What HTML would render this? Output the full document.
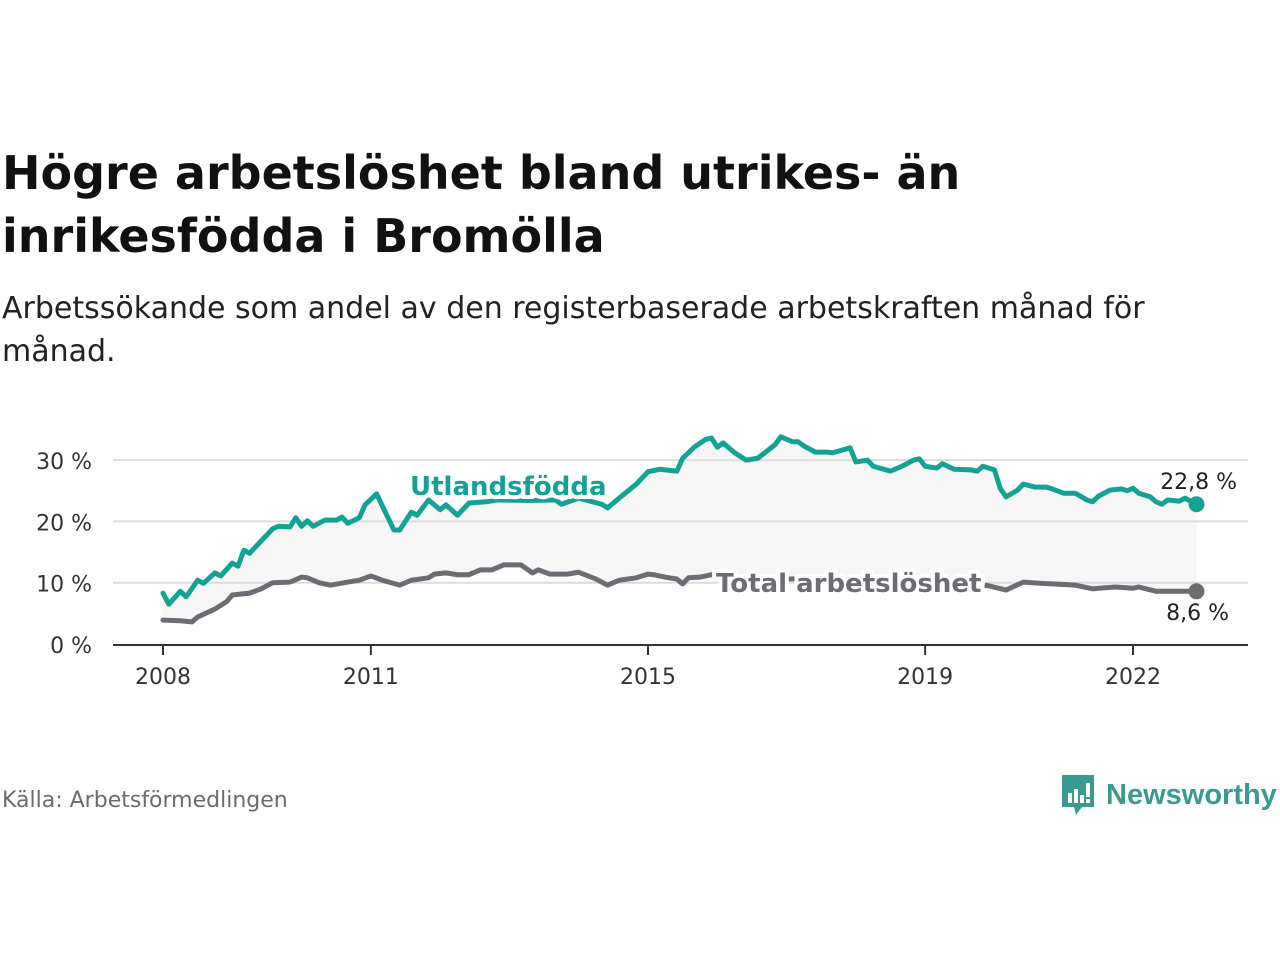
<!DOCTYPE html>
<html><head><meta charset="utf-8">
<style>
body{margin:0;background:#fff;width:1280px;height:960px;overflow:hidden;font-family:"DejaVu Sans","Liberation Sans",sans-serif;}
#title{position:absolute;left:2px;top:142px;font-size:46px;font-weight:bold;line-height:63px;color:#111;margin:0;}
#sub{position:absolute;left:2px;top:287px;font-size:30px;line-height:43px;color:#222;margin:0}
#src{position:absolute;left:2px;top:788px;font-size:22px;color:#6b6b70}
#logo{position:absolute;left:1060px;top:773px;display:flex;align-items:center}
</style></head><body>
<h1 id="title">Högre arbetslöshet bland utrikes- än<br>inrikesfödda i Bromölla</h1>
<p id="sub">Arbetssökande som andel av den registerbaserade arbetskraften månad för<br>månad.</p>
<svg id="chart" width="1280" height="960" style="position:absolute;left:0;top:0"></svg>
<div id="src">Källa: Arbetsförmedlingen</div>
<div id="logo">
<svg width="36" height="44" viewBox="0 0 36 44"><path d="M2 2h32v32H22l-6 8-2-8H2z" fill="#3a9a92"/><rect x="8" y="20" width="4" height="10" fill="#fff"/><rect x="14" y="16" width="4" height="14" fill="#fff"/><rect x="20" y="22" width="4" height="8" fill="#fff"/><rect x="26" y="10" width="4" height="14" fill="#fff"/><rect x="26" y="26" width="4" height="4" fill="#fff"/></svg>
<span style="font-size:29px;color:#3a9a92;margin-left:10px;font-family:'Liberation Sans',sans-serif;font-weight:bold">Newsworthy</span></div>
<script>
const fMonths=[0,1,3,4,6,7,9,10,12,13,14,15,17,19,20,22,23,24,25,26,28,30,31,32,34,35,37,38,40,41,43,44,46,48,49,51,53,56,58,63,68,69,72,76,77,79,82,84,86,89,90,92,94,95,96,97,99,101,103,106,107,109,110,111,113,115,116,119,120,122,123,126,128,130,131,132,134,135,137,140,141,142,144,145,146,148,149,151,153,154,156,158,160,161,162,164,166,167,168,169,171,172,173,174,176,177,179];
const fValues=[8.3,6.5,8.6,7.7,10.4,9.9,11.6,11.1,13.2,12.7,15.3,14.8,16.8,18.8,19.2,19.1,20.6,19.2,20.1,19.2,20.2,20.2,20.7,19.7,20.6,22.7,24.5,22.5,18.6,18.6,21.5,21.0,23.5,21.9,22.7,21.0,23.0,23.2,23.5,23.4,23.5,22.8,23.8,22.8,22.2,23.8,26.1,28.1,28.5,28.2,30.3,32.1,33.4,33.6,32.1,32.8,31.2,30.0,30.3,32.5,33.8,33.0,33.0,32.3,31.3,31.3,31.2,32.0,29.7,30.0,29.0,28.2,29.0,30.0,30.2,29.0,28.7,29.4,28.5,28.4,28.2,29.0,28.4,25.4,24.0,25.1,26.1,25.6,25.6,25.3,24.6,24.6,23.5,23.2,24.1,25.1,25.3,25.0,25.4,24.6,24.0,23.2,22.8,23.5,23.3,23.8,22.8];
const tMonths=[0,3,5,6,9,11,12,15,17,19,22,24,25,27,29,32,34,36,38,41,43,46,47,49,51,53,55,57,59,62,64,65,67,70,72,75,77,79,82,84,85,87,89,90,91,93,95,103,114,124,135,143,146,149,152,154,158,161,162,165,168,169,172,176,179];
const tValues=[3.9,3.8,3.6,4.4,5.7,6.9,8.0,8.3,9.0,10.0,10.1,10.9,10.8,10.0,9.6,10.1,10.4,11.1,10.4,9.6,10.4,10.8,11.4,11.6,11.3,11.3,12.1,12.1,12.9,12.9,11.6,12.1,11.4,11.4,11.7,10.6,9.6,10.4,10.8,11.4,11.3,10.9,10.6,9.8,10.8,10.9,11.3,10.4,10.8,10.1,10.4,9.5,8.8,10.1,9.9,9.8,9.6,9.0,9.1,9.3,9.1,9.3,8.6,8.6,8.6];
const yTicks=[0,10,20,30];
const xTickYears=[2008,2011,2015,2019,2022];
const NS="http://www.w3.org/2000/svg";
const svg=document.getElementById('chart');
const xs=m=>163+m*(1133-163)/168;
const ys=v=>644-v*6.13;
function mk(t,a,p){const e=document.createElementNS(NS,t);for(const k in a)e.setAttribute(k,a[k]);(p||svg).appendChild(e);return e;}
function interp(ms,vs,m){for(let i=1;i<ms.length;i++)if(m<=ms[i]){const f=(m-ms[i-1])/(ms[i]-ms[i-1]);return vs[i-1]+f*(vs[i]-vs[i-1]);}return vs[vs.length-1];}
const upperPts=[],lowerPts=[];
for(let m=0;m<=179;m++){upperPts.push(xs(m)+','+ys(interp(fMonths,fValues,m)));lowerPts.unshift(xs(m)+','+ys(interp(tMonths,tValues,m)));}
const area=mk('polygon',{points:upperPts.concat(lowerPts).join(' '),fill:'#f6f6f6'});


yTicks.forEach(t=>{
 if(t>0){const g=mk('line',{x1:113,x2:1248,y1:ys(t),y2:ys(t),stroke:'#dcdcdc','stroke-width':2});
 
 }
 const l=mk('text',{x:92,y:ys(t)+9,'text-anchor':'end','font-size':22,fill:'#333'});l.textContent=t+' %';
 
 
});
const axis=mk('line',{x1:113,x2:1248,y1:645,y2:645,stroke:'#333','stroke-width':2});


xTickYears.forEach(yr=>{const m=(yr-2008)*12;
 const tk=mk('line',{x1:xs(m),x2:xs(m),y1:645,y2:655,stroke:'#333','stroke-width':2});
 
 
 const l=mk('text',{x:xs(m),y:684,'text-anchor':'middle','font-size':22,fill:'#333'});l.textContent=yr;
 
 });
function line(ms,vs,c,name){
 const p=mk('polyline',{points:ms.map((m,i)=>xs(m)+','+ys(vs[i])).join(' '),fill:'none',stroke:c,'stroke-width':5,'stroke-linejoin':'round','stroke-linecap':'round'});
 
 
 const d=mk('circle',{cx:xs(ms[ms.length-1]),cy:ys(vs[vs.length-1]),r:8,fill:c});
 
 
}
line(tMonths,tValues,'#6e6b73','total');
line(fMonths,fValues,'#14a294','foreign');
function lab(txt,xx,yy,c,name,size,bold,anchor){
 const t=mk('text',{x:xx,y:yy,'font-size':size,'font-weight':bold?'bold':'normal',fill:c,stroke:'#fff','stroke-width':bold?8:0,'paint-order':'stroke','text-anchor':anchor||'start'});t.textContent=txt;
 
 
}
lab('Utlandsfödda',410,495,'#14a294','foreign-series-label',26,true);
lab('Total arbetslöshet',716,592,'#6e6b73','total-series-label',26,true);
lab('22,8 %',1237,489,'#222','foreign-end-value',22,false,'end');
lab('8,6 %',1229,620,'#222','total-end-value',22,false,'end');
</script>
</body></html>
